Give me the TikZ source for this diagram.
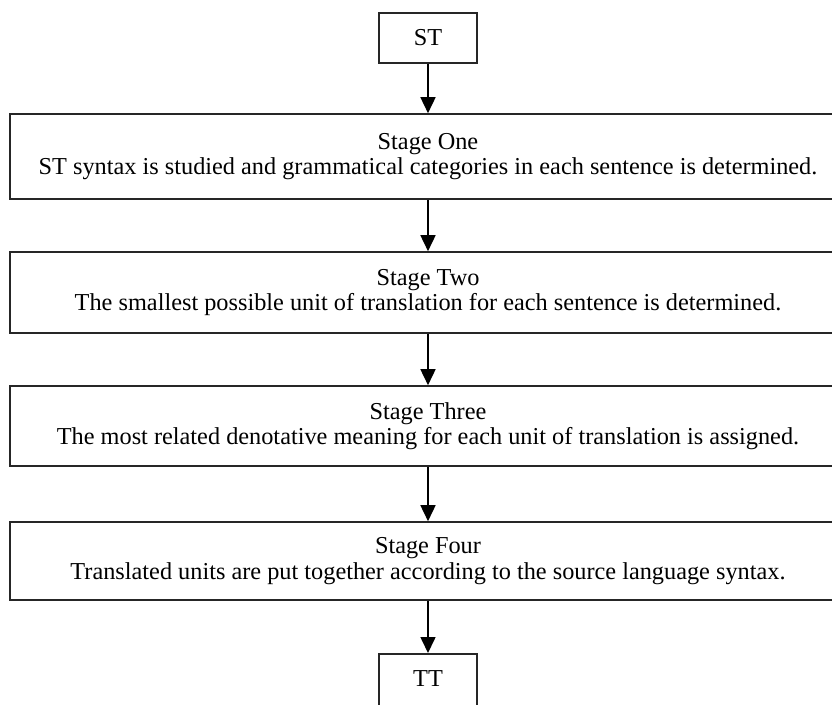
\documentclass[tikz,border=0pt]{standalone}
\usepackage{fontspec}
\setmainfont{Liberation Serif}
\usetikzlibrary{arrows.meta}
\begin{document}
\begin{tikzpicture}[x=1pt,y=-1pt,
  box/.style={draw=black!85, line width=1.6pt, inner sep=0pt, align=center,
    font=\fontsize{24.3}{25.5}\selectfont},
  small/.style={box, minimum width=98pt, minimum height=50pt},
  stage/.style={box, minimum width=836pt},
  conn/.style={line width=1.6pt, -{Triangle[length=16pt,width=15pt]}}]
\useasboundingbox (0,0) rectangle (832,704);
\node[small] (st) at (428,38) {ST};
\node[stage, minimum height=85pt] (s1) at (428,156.5) {Stage One\\ST syntax is studied and grammatical categories in each sentence is determined.};
\node[stage, minimum height=81pt] (s2) at (428,292.5) {Stage Two\\The smallest possible unit of translation for each sentence is determined.};
\node[stage, minimum height=80pt] (s3) at (428,426) {Stage Three\\The most related denotative meaning for each unit of translation is assigned.};
\node[stage, minimum height=78pt] (s4) at (428,561) {Stage Four\\Translated units are put together according to the source language syntax.};
\node[small, minimum height=60pt, text depth=10pt, anchor=north] (tt) at (428,653) {TT};
\draw[conn] (st) -- (s1);
\draw[conn] (s1) -- (s2);
\draw[conn] (s2) -- (s3);
\draw[conn] (s3) -- (s4);
\draw[conn] (s4) -- (tt);
\end{tikzpicture}
\end{document}
